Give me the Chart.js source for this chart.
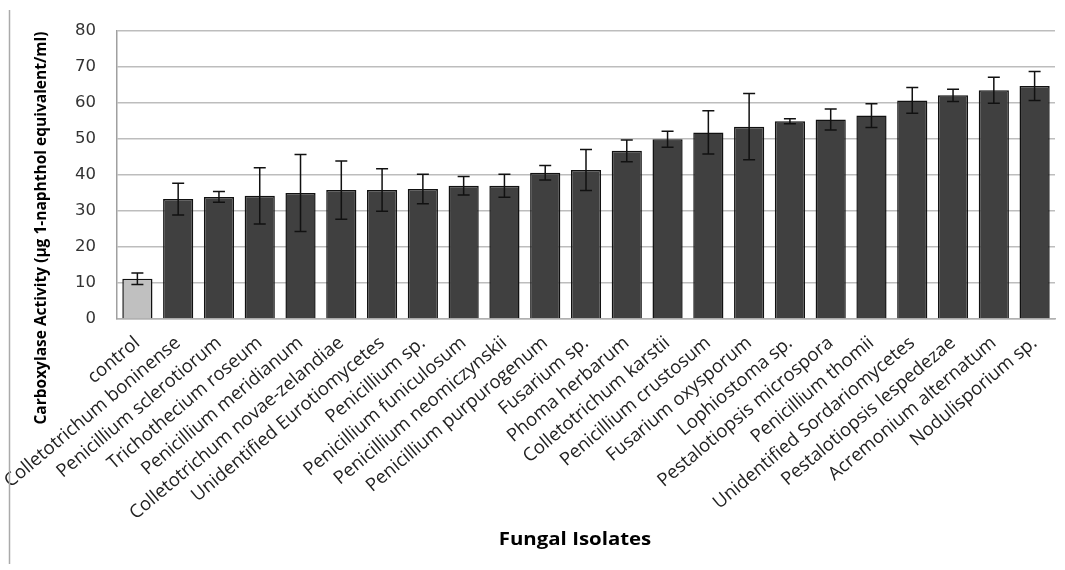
<!DOCTYPE html>
<html>
<head>
<meta charset="utf-8">
<script src="https://cdn.jsdelivr.net/npm/chart.js@4.4.0/dist/chart.umd.min.js"></script>
<style>
  html, body { margin: 0; padding: 0; background: #ffffff; }
  #wrap { position: relative; width: 1065px; height: 570px; }
</style>
</head>
<body>
<div id="wrap"><canvas id="c" width="1065" height="570"></canvas></div>
<script>
const categories = [
  "control", "Colletotrichum boninense", "Penicillium sclerotiorum", "Trichothecium roseum",
  "Penicillium meridianum", "Colletotrichum novae-zelandiae", "Unidentified Eurotiomycetes",
  "Penicillium sp.", "Penicillium funiculosum", "Penicillium neomiczynskii", "Penicillium purpurogenum",
  "Fusarium sp.", "Phoma herbarum", "Colletotrichum karstii", "Penicillium crustosum",
  "Fusarium oxysporum", "Lophiostoma sp.", "Pestalotiopsis microspora", "Penicillium thomii",
  "Unidentified Sordariomycetes", "Pestalotiopsis lespedezae", "Acremonium alternatum", "Nodulisporium sp."
];
const activity = [11.2, 33.3, 33.9, 34.2, 35.0, 35.8, 35.8, 36.1, 37.0, 37.0, 40.6, 41.4, 46.7, 49.9, 51.8,
  53.4, 54.9, 55.4, 56.5, 60.7, 62.1, 63.5, 64.7];
const errors = [1.6, 4.4, 1.5, 7.8, 10.7, 8.1, 5.9, 4.1, 2.6, 3.2, 2.0, 5.7, 3.0, 2.2, 6.0,
  9.2, 0.7, 2.9, 3.3, 3.6, 1.7, 3.6, 4.0];
const yTicks = [0, 10, 20, 30, 40, 50, 60, 70, 80];
const yTitle = "Carboxylase Activity (\u00b5g 1-naphthol equivalent/ml)";
const xTitle = "Fungal Isolates";

const barColors = categories.map((c, i) => i === 0 ? "#c0c0c0" : "#404040");

const errorBarPlugin = {
  id: "errorBars",
  afterDatasetsDraw(chart) {
    const ctx = chart.ctx;
    const meta = chart.getDatasetMeta(0);
    const y = chart.scales.y;
    ctx.save();
    ctx.strokeStyle = "#111111";
    ctx.lineWidth = 1.5;
    meta.data.forEach((bar, i) => {
      const v = activity[i], e = errors[i];
      const yTop = y.getPixelForValue(v + e);
      const yBot = y.getPixelForValue(v - e);
      const x = bar.x;
      ctx.beginPath();
      ctx.moveTo(x, yTop); ctx.lineTo(x, yBot);
      ctx.moveTo(x - 6, yTop); ctx.lineTo(x + 6, yTop);
      ctx.moveTo(x - 6, yBot); ctx.lineTo(x + 6, yBot);
      ctx.stroke();
    });
    ctx.restore();
  }
};

const titlesPlugin = {
  id: "titles",
  afterDraw(chart) {
    const ctx = chart.ctx;
    ctx.save();
    // frame line on the left
    ctx.strokeStyle = "#aaaaaa";
    ctx.lineWidth = 1.5;
    ctx.beginPath();
    ctx.moveTo(9.5, 10); ctx.lineTo(9.5, 564);
    ctx.stroke();
    // y title
    ctx.fillStyle = "#000000";
    ctx.font = "bold 15.5px 'Open Sans'";
    ctx.textAlign = "center";
    ctx.textBaseline = "middle";
    ctx.translate(42, 228);
    ctx.rotate(-Math.PI / 2);
    ctx.fillText(yTitle, 0, 0);
    ctx.restore();
    ctx.save();
    ctx.fillStyle = "#000000";
    ctx.font = "bold 17px 'Open Sans'";
    ctx.textAlign = "center";
    ctx.textBaseline = "middle";
    ctx.translate(575, 540);
    ctx.scale(1.2, 1);
    ctx.fillText(xTitle, 0, 0);
    ctx.restore();
  }
};

new Chart(document.getElementById("c"), {
  type: "bar",
  data: {
    labels: categories,
    datasets: [{
      data: activity,
      backgroundColor: barColors,
      borderColor: "#111111",
      borderWidth: 1.5,
      categoryPercentage: 1.0,
      barPercentage: 0.74
    }]
  },
  options: {
    responsive: false,
    animation: false,
    devicePixelRatio: 1,
    layout: { padding: { left: 0, right: 10, top: 27, bottom: 0 } },
    plugins: { legend: { display: false }, tooltip: { enabled: false } },
    scales: {
      x: {
        grid: { display: false, drawTicks: false },
        border: { display: true, color: "#b0b0b0", width: 1.5 },
        ticks: {
          autoSkip: false, minRotation: 40, maxRotation: 40, padding: 13,
          color: "#222222", font: { family: "'Open Sans'", size: 18.5 }
        },
        afterFit(scale) { scale.height = 251; }
      },
      y: {
        min: 0, max: 80,
        afterBuildTicks(scale) { scale.ticks = yTicks.map(v => ({ value: v })); },
        grid: { color: "#bdbdbd", lineWidth: 1.5, drawTicks: false },
        border: { display: true, color: "#a0a0a0", width: 1.5 },
        ticks: {
          padding: 21, color: "#333333",
          font: { family: "'DejaVu Sans'", size: 16.5 }
        },
        afterFit(scale) { scale.width = 117; }
      }
    }
  },
  plugins: [errorBarPlugin, titlesPlugin]
});
</script>
</body>
</html>
